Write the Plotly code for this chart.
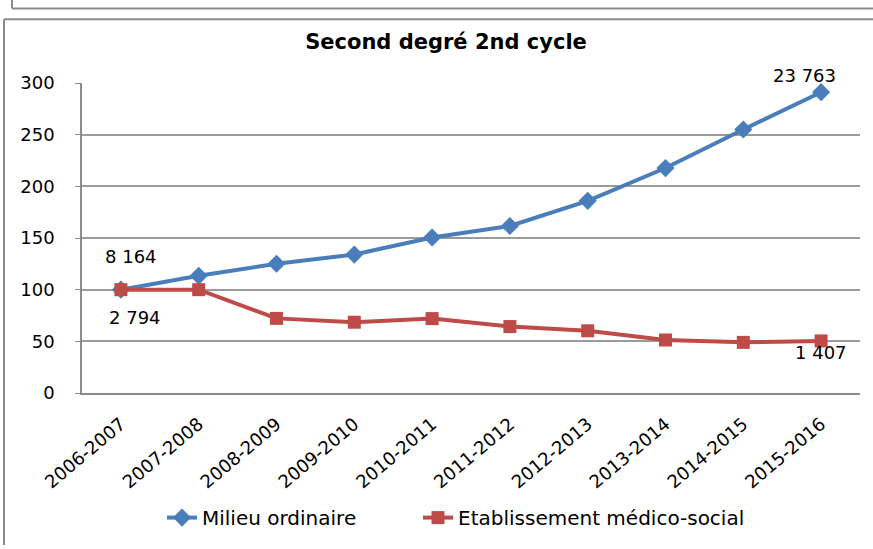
import plotly.graph_objects as go

categories = ["2006-2007", "2007-2008", "2008-2009", "2009-2010", "2010-2011",
              "2011-2012", "2012-2013", "2013-2014", "2014-2015", "2015-2016"]
milieu_ordinaire = [100, 113.4, 125.1, 134, 150.5, 161.6, 186, 217.7, 255, 291.1]
etablissement = [100, 100, 72.2, 68.5, 72, 64.3, 60.2, 51.3, 49, 50.4]
y_ticks = [0, 50, 100, 150, 200, 250, 300]

W, H = 873, 549
ML, MR, MT, MB = 82, 13, 83, 150
PW, PH = W - ML - MR, H - MT - MB

def px(X):
    return (X - ML) / PW

def py(Y):
    return (H - MB - Y) / PH

FONT = "DejaVu Sans"
BLUE = "#4A7EBB"
RED = "#BE4B48"

fig = go.Figure()
fig.add_trace(go.Scatter(
    x=categories, y=milieu_ordinaire, name="Milieu ordinaire",
    mode="lines+markers", legend="legend",
    line=dict(color=BLUE, width=4),
    marker=dict(symbol="diamond", size=14, color=BLUE),
))
fig.add_trace(go.Scatter(
    x=categories, y=etablissement, name="Etablissement médico-social",
    mode="lines+markers", legend="legend2",
    line=dict(color=RED, width=4),
    marker=dict(symbol="square", size=13, color=RED),
))

ann_font = dict(family=FONT, size=18, color="black")
fig.add_annotation(x=categories[0], y=milieu_ordinaire[0], text="8 164", showarrow=False,
                   xshift=10, yshift=33, font=ann_font)
fig.add_annotation(x=categories[0], y=etablissement[0], text="2 794", showarrow=False,
                   xshift=14, yshift=-28, font=ann_font)
fig.add_annotation(x=categories[-1], y=milieu_ordinaire[-1], text="23 763", showarrow=False,
                   xshift=-17, yshift=17, font=ann_font)
fig.add_annotation(x=categories[-1], y=etablissement[-1], text="1 407", showarrow=False,
                   xshift=0, yshift=-12, font=ann_font)

frame = dict(color="#8a8a8a", width=2)
shapes = [
    dict(type="line", xref="paper", yref="paper", x0=px(4), y0=py(18), x1=px(W + 5), y1=py(18), line=frame),
    dict(type="line", xref="paper", yref="paper", x0=px(4), y0=py(18), x1=px(4), y1=py(H + 5), line=frame),
    dict(type="line", xref="paper", yref="paper", x0=px(12), y0=py(7), x1=px(W + 5), y1=py(7), line=frame),
    dict(type="line", xref="paper", yref="paper", x0=px(12), y0=py(7), x1=px(12), y1=py(-5), line=frame),
]

legend_common = dict(orientation="h", xanchor="left", yanchor="middle", y=py(526),
                     font=dict(family=FONT, size=20, color="black"),
                     bgcolor="rgba(0,0,0,0)")

fig.update_layout(
    width=W, height=H,
    margin=dict(l=ML, r=MR, t=MT, b=MB),
    paper_bgcolor="white", plot_bgcolor="white",
    font=dict(family=FONT, size=18, color="black"),
    title=dict(text="<b>Second degré 2nd cycle</b>", xref="container", x=446 / W,
               xanchor="center", yref="container", y=1 - 42 / H, yanchor="middle",
               font=dict(family=FONT, size=21, color="black")),
    showlegend=True,
    legend=dict(x=px(162), **legend_common),
    legend2=dict(x=px(418), **legend_common),
    shapes=shapes,
)
fig.update_xaxes(
    type="category", range=[-0.5, len(categories) - 0.5], autorange=False,
    showgrid=False, showline=True, linecolor="#8c8c8c", linewidth=1.5,
    tickangle=-40, tickfont=dict(family=FONT, size=18), ticks="",
    ticklabelstandoff=12,
)
fig.update_yaxes(
    range=[0, 300], tickvals=y_ticks, showgrid=True, gridcolor="#9a9a9a", gridwidth=1.5,
    showline=True, linecolor="#8c8c8c", linewidth=1.5, ticks="outside", ticklen=5,
    tickcolor="#8c8c8c", tickfont=dict(family=FONT, size=18), zeroline=False,
    ticklabelstandoff=17,
)

fig.write_html("out.html", config={"displayModeBar": False},
               post_script="document.body.style.margin='0';")
